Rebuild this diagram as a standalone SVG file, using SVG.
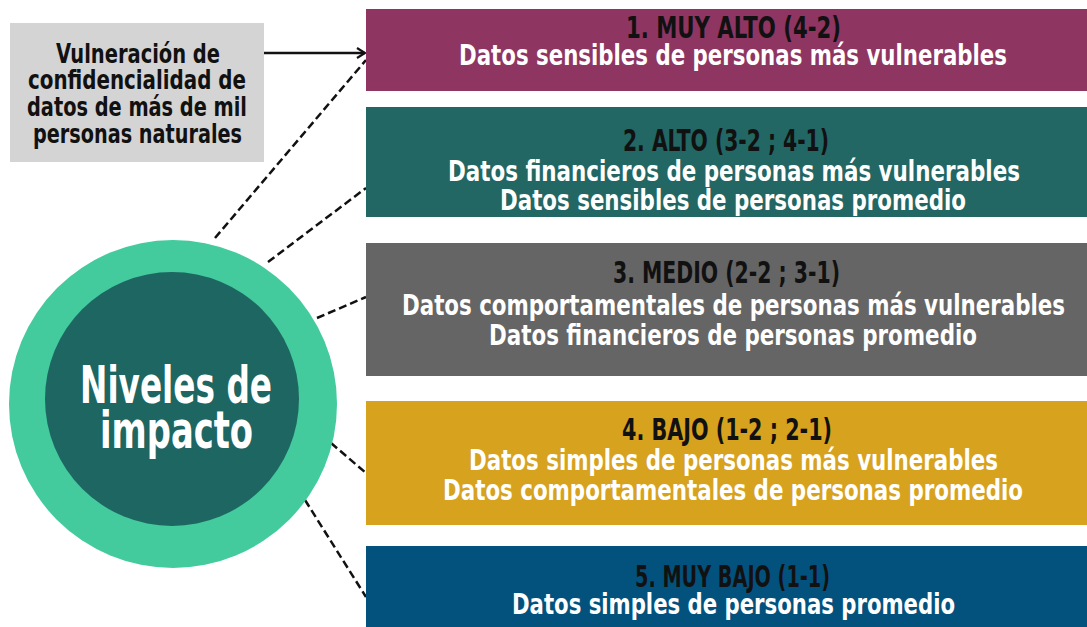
<svg xmlns="http://www.w3.org/2000/svg" width="1087" height="627" viewBox="0 0 1087 627">
<defs>
<style>
.t{font-family:"Liberation Sans Narrow","DejaVu Sans Condensed","DejaVu Sans",sans-serif;font-weight:bold;}
.ttl{font-size:30px;fill:#111111;}
.ln{font-size:29px;fill:#ffffff;}
.lb{font-size:27px;fill:#111111;}
.cc{font-size:52px;fill:#ffffff;}
.dash{stroke:#111111;stroke-width:2.5;stroke-dasharray:8 4;fill:none;}
</style>
<marker id="arr" markerWidth="12" markerHeight="12" refX="10" refY="6" orient="auto" markerUnits="userSpaceOnUse">
<path d="M2,1 L10,6 L2,11" fill="none" stroke="#111111" stroke-width="2.2"/>
</marker>
</defs>
<rect width="1087" height="627" fill="#ffffff"/>

<g id="connectors">
<line x1="264" y1="53" x2="365" y2="53" stroke="#111111" stroke-width="2.4" marker-end="url(#arr)"/>
<line class="dash" x1="215" y1="238" x2="366" y2="60"/>
<line class="dash" x1="268" y1="262" x2="366" y2="188"/>
<line class="dash" x1="317" y1="318" x2="366" y2="297"/>
<line class="dash" x1="331" y1="443" x2="366" y2="473"/>
<line class="dash" x1="305" y1="500" x2="366" y2="597"/>
</g>

<g id="source">
<rect x="10" y="23" width="254" height="139" fill="#d4d4d4"/>
<text class="t lb" x="56" y="63" textLength="164" lengthAdjust="spacingAndGlyphs">Vulneración de</text>
<text class="t lb" x="28" y="89" textLength="218" lengthAdjust="spacingAndGlyphs">confidencialidad de</text>
<text class="t lb" x="27" y="116" textLength="220" lengthAdjust="spacingAndGlyphs">datos de más de mil</text>
<text class="t lb" x="33" y="143" textLength="209" lengthAdjust="spacingAndGlyphs">personas naturales</text>
</g>

<g id="center">
<circle cx="173" cy="404" r="164" fill="#43cb9d"/>
<circle cx="172" cy="399" r="127" fill="#1e6662"/>
<text class="t cc" x="80" y="403" textLength="192" lengthAdjust="spacingAndGlyphs">Niveles de</text>
<text class="t cc" x="100" y="448" textLength="153" lengthAdjust="spacingAndGlyphs">impacto</text>
</g>

<g id="level1">
<rect x="366" y="9" width="721" height="82" fill="#8e3562"/>
<text class="t ttl" x="626" y="38" textLength="215" lengthAdjust="spacingAndGlyphs">1. MUY ALTO (4-2)</text>
<text class="t ln" x="459" y="65" textLength="548" lengthAdjust="spacingAndGlyphs">Datos sensibles de personas más vulnerables</text>
</g>

<g id="level2">
<rect x="366" y="107" width="721" height="110" fill="#226764"/>
<text class="t ttl" x="623" y="151" textLength="206" lengthAdjust="spacingAndGlyphs">2. ALTO (3-2 ; 4-1)</text>
<text class="t ln" x="448" y="181" textLength="572" lengthAdjust="spacingAndGlyphs">Datos financieros de personas más vulnerables</text>
<text class="t ln" x="500" y="210" textLength="466" lengthAdjust="spacingAndGlyphs">Datos sensibles de personas promedio</text>
</g>

<g id="level3">
<rect x="366" y="243" width="721" height="133" fill="#656565"/>
<text class="t ttl" x="613" y="283" textLength="227" lengthAdjust="spacingAndGlyphs">3. MEDIO (2-2 ; 3-1)</text>
<text class="t ln" x="402" y="315" textLength="663" lengthAdjust="spacingAndGlyphs">Datos comportamentales de personas más vulnerables</text>
<text class="t ln" x="489" y="345" textLength="488" lengthAdjust="spacingAndGlyphs">Datos financieros de personas promedio</text>
</g>

<g id="level4">
<rect x="366" y="401" width="721" height="124" fill="#d7a21e"/>
<text class="t ttl" x="622" y="440" textLength="210" lengthAdjust="spacingAndGlyphs">4. BAJO (1-2 ; 2-1)</text>
<text class="t ln" x="469" y="470" textLength="529" lengthAdjust="spacingAndGlyphs">Datos simples de personas más vulnerables</text>
<text class="t ln" x="443" y="500" textLength="580" lengthAdjust="spacingAndGlyphs">Datos comportamentales de personas promedio</text>
</g>

<g id="level5">
<rect x="366" y="546" width="721" height="81" fill="#03527e"/>
<text class="t ttl" x="635" y="587" textLength="195" lengthAdjust="spacingAndGlyphs">5. MUY BAJO (1-1)</text>
<text class="t ln" x="512" y="614" textLength="443" lengthAdjust="spacingAndGlyphs">Datos simples de personas promedio</text>
</g>
</svg>
